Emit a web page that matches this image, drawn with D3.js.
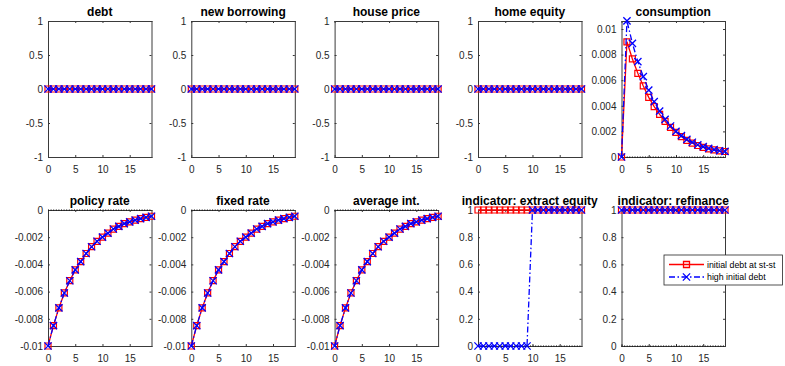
<!DOCTYPE html>
<html>
<head>
<meta charset="utf-8">
<script src="https://cdn.jsdelivr.net/npm/d3@7"></script>
<style>
  body { margin: 0; background: #fff; }
  svg { display: block; }
  text { font-family: "Liberation Sans", Arial, Helvetica, sans-serif; }
</style>
</head>
<body>
<svg id="fig" width="785" height="366"></svg>
<script>
// ---- data -------------------------------------------------------------
const periods = [0,1,2,3,4,5,6,7,8,9,10,11,12,13,14,15,16,17,18,19];

// debt, new borrowing, house price and home equity stay flat in both scenarios
const flatZero = [0,0,0,0,0,0,0,0,0,0,0,0,0,0,0,0,0,0,0,0];

const consumptionBase = [0, 0.0090, 0.00766, 0.00654, 0.00555, 0.00466, 0.00393, 0.00333, 0.00279, 0.00232,
                         0.00193, 0.00159, 0.00130, 0.00108, 0.00090, 0.00075, 0.00063, 0.00055, 0.00048, 0.00043];
const consumptionHigh = [0, 0.01063, 0.00888, 0.00745, 0.00628, 0.00523, 0.00432, 0.00359, 0.00294, 0.00242,
                         0.00200, 0.00167, 0.00138, 0.00115, 0.00096, 0.00081, 0.00068, 0.00057, 0.00049, 0.00044];

const policyRate = [-0.0100, -0.0085, -0.0072, -0.0061, -0.0052, -0.0044, -0.0038, -0.0032, -0.0027, -0.0023,
                    -0.0020, -0.0017, -0.0014, -0.0012, -0.0010, -0.00087, -0.00074, -0.00063, -0.00054, -0.00046];
const fixedRate  = [-0.0100, -0.0085, -0.0072, -0.0061, -0.0052, -0.0044, -0.0038, -0.0032, -0.0027, -0.0023,
                    -0.0020, -0.0017, -0.0014, -0.0012, -0.0010, -0.00087, -0.00074, -0.00063, -0.00054, -0.00046];
const avgRate    = [-0.0100, -0.0085, -0.0072, -0.0061, -0.0052, -0.0044, -0.0038, -0.0032, -0.0027, -0.0023,
                    -0.0020, -0.0017, -0.0014, -0.0012, -0.0010, -0.00087, -0.00074, -0.00063, -0.00054, -0.00046];

const extractBase = [1,1,1,1,1,1,1,1,1,1,1,1,1,1,1,1,1,1,1,1];
const extractHigh = [0,0,0,0,0,0,0,0,0,0,1,1,1,1,1,1,1,1,1,1];
const refiBase    = [1,1,1,1,1,1,1,1,1,1,1,1,1,1,1,1,1,1,1,1];
const refiHigh    = [1,1,1,1,1,1,1,1,1,1,1,1,1,1,1,1,1,1,1,1];

const xTicks = [0, 5, 10, 15];
const unitTicks = [-1, -0.5, 0, 0.5, 1];
const consTicks = [0, 0.002, 0.004, 0.006, 0.008, 0.01];
const rateTicks = [-0.01, -0.008, -0.006, -0.004, -0.002, 0];
const indTicks  = [0, 0.2, 0.4, 0.6, 0.8, 1];

const seriesNames = ["initial debt at st-st", "high initial debt"];

const panels = [
  { title: "debt",           base: flatZero, high: flatZero, y: [-1, 1], ticks: unitTicks },
  { title: "new borrowing",  base: flatZero, high: flatZero, y: [-1, 1], ticks: unitTicks },
  { title: "house price",    base: flatZero, high: flatZero, y: [-1, 1], ticks: unitTicks },
  { title: "home equity",    base: flatZero, high: flatZero, y: [-1, 1], ticks: unitTicks },
  { title: "consumption",    base: consumptionBase, high: consumptionHigh, y: [0, 0.010625], ticks: consTicks },
  { title: "policy rate",    base: policyRate, high: policyRate, y: [-0.01, 0], ticks: rateTicks },
  { title: "fixed rate",     base: fixedRate,  high: fixedRate,  y: [-0.01, 0], ticks: rateTicks },
  { title: "average int.",   base: avgRate,    high: avgRate,    y: [-0.01, 0], ticks: rateTicks },
  { title: "indicator: extract equity", base: extractBase, high: extractHigh, y: [0, 1], ticks: indTicks },
  { title: "indicator: refinance",      base: refiBase,    high: refiHigh,    y: [0, 1], ticks: indTicks }
];

// ---- layout -----------------------------------------------------------
const colLeft = [48, 191.3, 334.6, 478, 621.5];
const rowTop = [21, 210];
const pw = 103.5, ph = 136;
const axisColor = "#3a3a3a";
const red = "#ff0000", blue = "#0000ff";

const svg = d3.select("#fig");

const symX = d3.symbolTimes || d3.symbolX || {
  draw(ctx, size) {
    const r = Math.sqrt(size - Math.min(size / 6, 1.7)) * 0.6189;
    ctx.moveTo(-r, -r); ctx.lineTo(r, r); ctx.moveTo(-r, r); ctx.lineTo(r, -r);
  }
};
const squarePath = d3.symbol(d3.symbolSquare, 36)();
const crossPath = d3.symbol(symX, 36)();

function styleAxis(g) {
  g.selectAll(".domain").attr("stroke", axisColor).attr("stroke-width", 1);
  g.selectAll(".tick line").attr("stroke", axisColor).attr("stroke-width", 1);
  g.selectAll(".tick text").attr("fill", "#262626").style("font-size", "10px")
    .style("font-family", "'Liberation Sans', Arial, Helvetica, sans-serif");
}

panels.forEach((p, i) => {
  const col = i % 5, row = Math.floor(i / 5);
  const g = svg.append("g").attr("transform", `translate(${colLeft[col]},${rowTop[row]})`);

  const x = d3.scaleLinear().domain([0, 19]).range([0, pw]);
  const y = d3.scaleLinear().domain(p.y).range([ph, 0]);

  // axes box with inward ticks on all four sides
  g.append("g").attr("transform", `translate(0,${ph})`)
    .call(d3.axisBottom(x).tickValues(xTicks).tickSizeInner(-2).tickSizeOuter(0).tickPadding(9).tickFormat(d => String(d)))
    .call(styleAxis);
  g.append("g")
    .call(d3.axisTop(x).tickValues(xTicks).tickSizeInner(-2).tickSizeOuter(0).tickFormat(""))
    .call(styleAxis);
  g.append("g")
    .call(d3.axisLeft(y).tickValues(p.ticks).tickSizeInner(-2).tickSizeOuter(0).tickPadding(5).tickFormat(d => String(d)))
    .call(styleAxis);
  g.append("g").attr("transform", `translate(${pw},0)`)
    .call(d3.axisRight(y).tickValues(p.ticks).tickSizeInner(-2).tickSizeOuter(0).tickFormat(""))
    .call(styleAxis);
  g.selectAll(".domain").attr("stroke-linecap", "square");

  // title
  g.append("text").attr("x", pw / 2).attr("y", -5.5)
    .attr("text-anchor", "middle").attr("font-weight", "bold")
    .attr("font-size", "12px").attr("fill", "#000").text(p.title);

  // steady-state reference line at zero
  const zeroLine = d3.line().x(d => x(d)).y(() => y(0));
  g.append("path").attr("d", zeroLine(periods))
    .attr("fill", "none").attr("stroke", "#000").attr("stroke-width", 1)
    .attr("stroke-dasharray", "1,1.6");

  const line = d3.line().x((d, k) => x(periods[k])).y(d => y(d));

  // initial debt at steady state: red solid with squares
  g.append("path").attr("d", line(p.base))
    .attr("fill", "none").attr("stroke", red).attr("stroke-width", 1.3);
  g.selectAll(".mk-base").data(p.base).enter().append("path")
    .attr("transform", (d, k) => `translate(${x(periods[k])},${y(d)})`)
    .attr("d", squarePath).attr("fill", "none").attr("stroke", red).attr("stroke-width", 1.2);

  // high initial debt: blue dash-dot with crosses
  g.append("path").attr("d", line(p.high))
    .attr("fill", "none").attr("stroke", blue).attr("stroke-width", 1.3)
    .attr("stroke-dasharray", "6,2.5,1.5,2.5");
  g.selectAll(".mk-high").data(p.high).enter().append("path")
    .attr("transform", (d, k) => `translate(${x(periods[k])},${y(d)})`)
    .attr("d", crossPath).attr("fill", "none").attr("stroke", blue).attr("stroke-width", 1.3);
});

// ---- legend -----------------------------------------------------------
const lg = svg.append("g").attr("transform", "translate(664,255)");
lg.append("rect").attr("x", 0).attr("y", 0).attr("width", 118.5).attr("height", 30)
  .attr("fill", "#fff").attr("stroke", "#262626").attr("stroke-width", 0.8);
const legendRows = [
  { name: seriesNames[0], color: red, dash: null, mark: squarePath, y: 9.5 },
  { name: seriesNames[1], color: blue, dash: "6,2.5,1.5,2.5", mark: crossPath, y: 22 }
];
legendRows.forEach(r => {
  lg.append("line").attr("x1", 5).attr("x2", 40).attr("y1", r.y).attr("y2", r.y)
    .attr("stroke", r.color).attr("stroke-width", 1.3)
    .attr("stroke-dasharray", r.dash);
  lg.append("path").attr("transform", `translate(22.5,${r.y})`).attr("d", r.mark)
    .attr("fill", "none").attr("stroke", r.color).attr("stroke-width", 1.3);
  lg.append("text").attr("x", 43).attr("y", r.y).attr("dy", "0.35em")
    .attr("font-size", "8.8px").attr("fill", "#000").text(r.name);
});
</script>
</body>
</html>
